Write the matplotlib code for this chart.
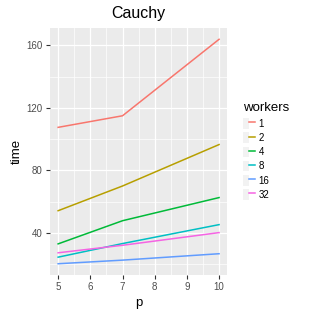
import matplotlib.pyplot as plt
from matplotlib.lines import Line2D
from matplotlib.patches import Patch
from matplotlib.legend_handler import HandlerTuple

plt.rcParams['font.family'] = ['Liberation Sans', 'DejaVu Sans']

p = [5, 7, 10]
workers = ['1', '2', '4', '8', '16', '32']
times = {
    '1': [107.5, 114.9, 163.8],
    '2': [54.2, 70.0, 96.5],
    '4': [33.0, 47.8, 62.6],
    '8': [24.5, 33.2, 45.3],
    '16': [20.3, 22.6, 26.7],
    '32': [27.3, 32.1, 40.2],
}
colors = ['#F8766D', '#B79F00', '#00BA38', '#00BFC4', '#619CFF', '#F564E3']

fig = plt.figure(figsize=(3.15, 3.15), dpi=100)
ax = fig.add_axes([0.159, 0.127, 0.562, 0.784])
ax.set_facecolor('#EBEBEB')
for s in ax.spines.values():
    s.set_visible(False)

handles = []
for w, c in zip(workers, colors):
    ax.plot(p, times[w], color=c, lw=1.1)
    handles.append((Patch(facecolor='#F2F2F2', edgecolor='none'), Line2D([], [], color=c, lw=1.1)))

ax.set_xlim(4.75, 10.25)
ax.set_ylim(13.1, 171.0)
ax.set_xticks([5, 6, 7, 8, 9, 10])
ax.set_xticks([5.5, 6.5, 7.5, 8.5, 9.5], minor=True)
ax.set_yticks([40, 80, 120, 160])
ax.set_yticks([20, 60, 100, 140], minor=True)
ax.grid(which='major', color='white', lw=0.9)
ax.grid(which='minor', color='white', lw=0.5)
ax.set_axisbelow(True)
ax.tick_params(which='major', colors='#333333', labelcolor='#4D4D4D', labelsize=7, length=3.2, width=0.8, pad=2)
ax.tick_params(which='minor', length=0)

ax.set_xlabel('p', fontsize=9.5, labelpad=3.5)
ax.set_ylabel('time', fontsize=9.5, labelpad=3)
ax.set_title('Cauchy', fontsize=11.5, pad=7)

fig.legend(handles, workers, title='workers', loc='upper left', bbox_to_anchor=(0.770, 0.675),
           frameon=False, fontsize=7, title_fontsize=9.5, alignment='left',
           handler_map={tuple: HandlerTuple(ndivide=None, pad=0)},
           handlelength=1.29, handleheight=1.29, handletextpad=0.35, labelspacing=0.38,
           borderaxespad=0, borderpad=0)

fig.savefig('out.png', dpi=100)
